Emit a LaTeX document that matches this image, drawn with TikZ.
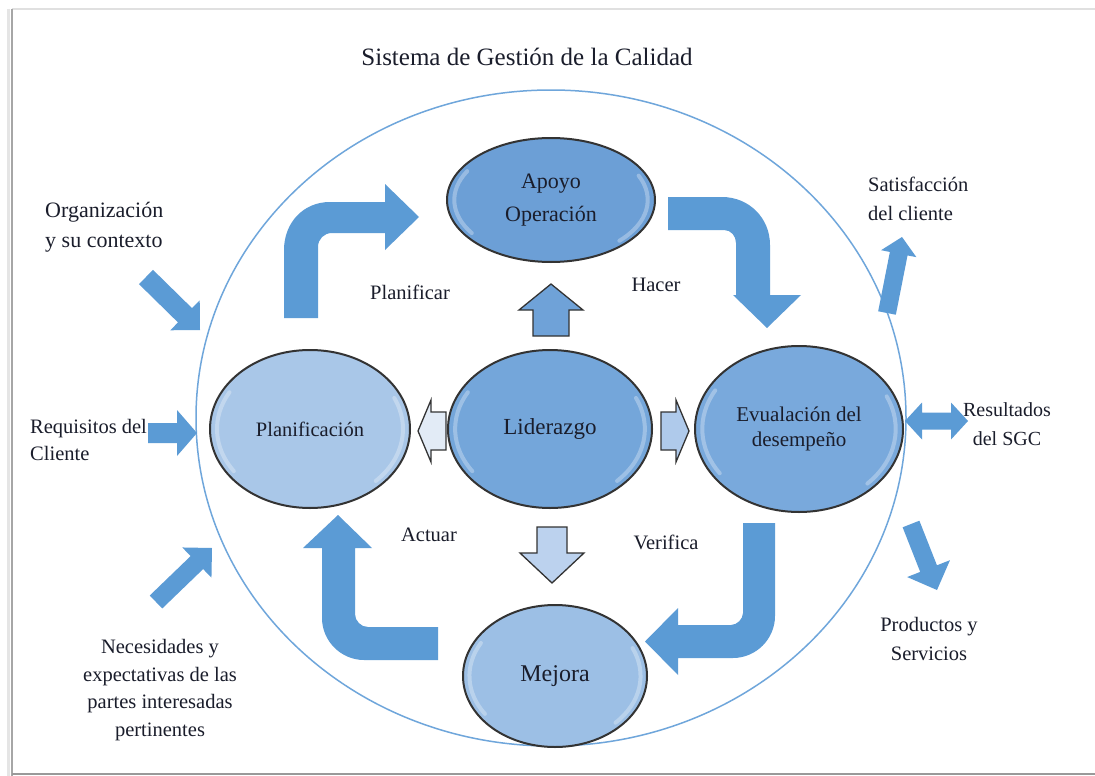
\documentclass[tikz,border=0pt]{standalone}
\usepackage{fontspec}
\setmainfont{Liberation Serif}
\usetikzlibrary{shapes.geometric,calc}
\definecolor{arrowblue}{HTML}{5B9BD5}
\definecolor{ringblue}{HTML}{6FA6DB}
\definecolor{txt}{HTML}{1A1D2B}
\definecolor{cApoyo}{HTML}{6C9FD6}
\definecolor{cPlan}{HTML}{A9C7E8}
\definecolor{cLider}{HTML}{74A6DA}
\definecolor{cEval}{HTML}{79A9DC}
\definecolor{cMejora}{HTML}{9CBFE5}
\definecolor{outl}{HTML}{333333}
\definecolor{sUp}{HTML}{6FA2D8}
\definecolor{sDown}{HTML}{BCD2EE}
\definecolor{sLeft}{HTML}{E2EBF6}
\definecolor{sRight}{HTML}{AFCAEB}

\newcommand\blkarrow[6][]{%
  \path ($(#3)!#6!(#2)$) coordinate (bA);
  \path[#1] ($(#2)!#4!90:(#3)$) -- ($(bA)!#4!90:(#3)$) -- ($(bA)!#5!90:(#3)$) -- (#3)
    -- ($(bA)!#5!-90:(#3)$) -- ($(bA)!#4!-90:(#3)$) -- ($(#2)!#4!-90:(#3)$) -- cycle;}

\newcommand\dblarrow[6][]{%
  \path ($(#2)!#6!(#3)$) coordinate (bA) ($(#3)!#6!(#2)$) coordinate (bB);
  \path[#1] (#2) -- ($(bA)!#5!90:(#3)$) -- ($(bA)!#4!90:(#3)$) -- ($(bB)!#4!-90:(#2)$)
    -- ($(bB)!#5!-90:(#2)$) -- (#3) -- ($(bB)!#5!90:(#2)$) -- ($(bB)!#4!90:(#2)$)
    -- ($(bA)!#4!-90:(#3)$) -- ($(bA)!#5!-90:(#3)$) -- cycle;}

\newcommand\gloss[3]{%
  \draw[glossy] ($(#1.center)+({0.93*#2*cos(145)},{0.93*#3*sin(145)})$) arc[start angle=145,end angle=210,x radius={0.93*#2},y radius={0.93*#3}];
  \draw[glossy] ($(#1.center)+({0.93*#2*cos(-25)},{0.93*#3*sin(-25)})$) arc[start angle=-25,end angle=45,x radius={0.93*#2},y radius={0.93*#3}];}

\tikzset{
  stage/.style={ellipse, draw=outl, line width=2pt, text=txt, align=center, inner sep=0pt},
  lbl/.style={text=txt, inner sep=0pt, font=\fontsize{20.5}{28}\selectfont},
  bigarrow/.style={fill=arrowblue},
  outarrow/.style={fill=arrowblue},
  smallarrow/.style={draw=outl, line width=1.3pt, line join=miter},
  glossy/.style={white, opacity=.3, line width=4pt, line cap=round},
}

\begin{document}
\begin{tikzpicture}[x=1pt,y=-1pt]
\useasboundingbox (0,0) rectangle (1095,776);
\fill[white] (0,0) rectangle (1095,776);
% page frame
\draw[black!12, line width=1.5pt] (12,9) -- (1095,9);
\draw[black!10, line width=3pt] (8,9) -- (8,776);
\draw[black!35, line width=1.5pt] (12,9) -- (12,776);
\draw[black!40, line width=2pt] (12,774) -- (1095,774);

% title
\node[text=txt, inner sep=0pt, font=\fontsize{25}{30}\selectfont] (title) at (527,57) {Sistema de Gestión de la Calidad};

% system ellipse
\node[ellipse, draw=ringblue, line width=1.5pt, minimum width=710pt, minimum height=656pt, inner sep=0pt] (sgc) at (551,418) {};

% big cycle arrows
\path[bigarrow] (284,318) -- (284,250) .. controls (284,223) and (303,202) .. (330,202) -- (385,202)
  -- (385,184) -- (419,217) -- (385,250) -- (385,233) -- (332,233)
  .. controls (324,233) and (318,239) .. (318,247) -- (318,318) -- cycle;
\path[bigarrow] (668,197) -- (722,197) .. controls (749,197) and (770,218) .. (770,245) -- (770,295)
  -- (801,295) -- (767,328) -- (733,295) -- (736,295) -- (736,243)
  .. controls (736,236) and (731,230) .. (724,230) -- (668,230) -- cycle;
\path[bigarrow] (438,627) -- (368,627) .. controls (361,627) and (355,621) .. (355,614) -- (355,548)
  -- (372,548) -- (338,515) -- (303,548) -- (322,548) -- (322,618)
  .. controls (322,641) and (341,660) .. (364,660) -- (438,660) -- cycle;
\path[bigarrow] (743,523) -- (775,523) -- (775,616) .. controls (775,639) and (756,658) .. (733,658)
  -- (678,658) -- (678,675) -- (645,641.5) -- (678,608) -- (678,625) -- (731,625)
  .. controls (737,625) and (743,619) .. (743,613) -- cycle;

% stages
\node[stage, fill=cApoyo, minimum width=208pt, minimum height=124pt, font=\fontsize{22}{33}\selectfont] (apoyo) at (551,200) {Apoyo\\Operación};
\node[stage, fill=cPlan, minimum width=200pt, minimum height=158pt, font=\fontsize{20.5}{25}\selectfont] (plan) at (310,429) {Planificación};
\node[stage, fill=cLider, minimum width=204pt, minimum height=158pt, font=\fontsize{23}{28}\selectfont] (lider) at (550,429) {Liderazgo};
\node[stage, fill=cEval, minimum width=208pt, minimum height=166pt, font=\fontsize{21}{24.5}\selectfont] (eval) at (799,429) {Evualación del\\desempeño};
\node[stage, fill=cMejora, minimum width=184pt, minimum height=142pt, font=\fontsize{24}{28}\selectfont] (mejora) at (555,676) {Mejora};
\gloss{apoyo}{104}{62}
\gloss{plan}{100}{79}
\gloss{lider}{102}{79}
\gloss{eval}{104}{83}
\gloss{mejora}{92}{71}

% small arrows from Liderazgo
\coordinate (upS) at (551,336);   \coordinate (upT) at (551,284);
\coordinate (dnS) at (552,527);   \coordinate (dnT) at (552,583);
\coordinate (lfS) at (446,431);   \coordinate (lfT) at (418,431);
\coordinate (rtS) at (661,431);   \coordinate (rtT) at (689,431);
\blkarrow[smallarrow, fill=sUp]{upS}{upT}{18pt}{32pt}{26pt}
\blkarrow[smallarrow, fill=sDown]{dnS}{dnT}{15pt}{32pt}{30pt}
\blkarrow[smallarrow, fill=sLeft]{lfS}{lfT}{19pt}{31pt}{13pt}
\blkarrow[smallarrow, fill=sRight]{rtS}{rtT}{19pt}{31pt}{13pt}

% outer arrows
\coordinate (orgS) at (146,277);  \coordinate (orgT) at (200,330);
\coordinate (reqS) at (148,433);  \coordinate (reqT) at (197,433);
\coordinate (necS) at (156,602);  \coordinate (necT) at (212,548);
\coordinate (satS) at (887,313);  \coordinate (satT) at (902,237);
\coordinate (resA) at (905,421);  \coordinate (resB) at (968,421);
\coordinate (prodS) at (911,524); \coordinate (prodT) at (937,590);
\blkarrow[outarrow]{orgS}{orgT}{10pt}{21pt}{21pt}
\blkarrow[outarrow]{reqS}{reqT}{10pt}{23pt}{20pt}
\blkarrow[outarrow]{necS}{necT}{9pt}{21pt}{21pt}
\blkarrow[outarrow]{satS}{satT}{9pt}{18pt}{17pt}
\dblarrow[outarrow]{resA}{resB}{8.5pt}{18.5pt}{17pt}
\blkarrow[outarrow]{prodS}{prodT}{9pt}{23pt}{23pt}

% labels
\node[lbl, font=\fontsize{22}{30}\selectfont, anchor=west, align=left] (org) at (45,227) {Organización\\y su contexto};
\node[lbl, anchor=west, align=left, font=\fontsize{20.5}{27}\selectfont] (req) at (30,440) {Requisitos del\\Cliente};
\node[lbl, align=center, font=\fontsize{20.5}{27.7}\selectfont] (nec) at (160,690) {Necesidades y\\expectativas de las\\partes interesadas\\pertinentes};
\node[lbl, anchor=west, align=left, font=\fontsize{20.5}{29}\selectfont] (sat) at (868,199) {Satisfacción\\del cliente};
\node[lbl, align=center, font=\fontsize{20}{29}\selectfont] (res) at (1007,424) {Resultados\\del SGC};
\node[lbl, align=center, font=\fontsize{20.5}{29}\selectfont] (prod) at (929,639) {Productos y\\Servicios};
\node[lbl] (planif) at (410,292) {Planificar};
\node[lbl] (hacer) at (656,285) {Hacer};
\node[lbl] (actuar) at (429,535) {Actuar};
\node[lbl] (verif) at (666,542) {Verifica};
\end{tikzpicture}
\end{document}
